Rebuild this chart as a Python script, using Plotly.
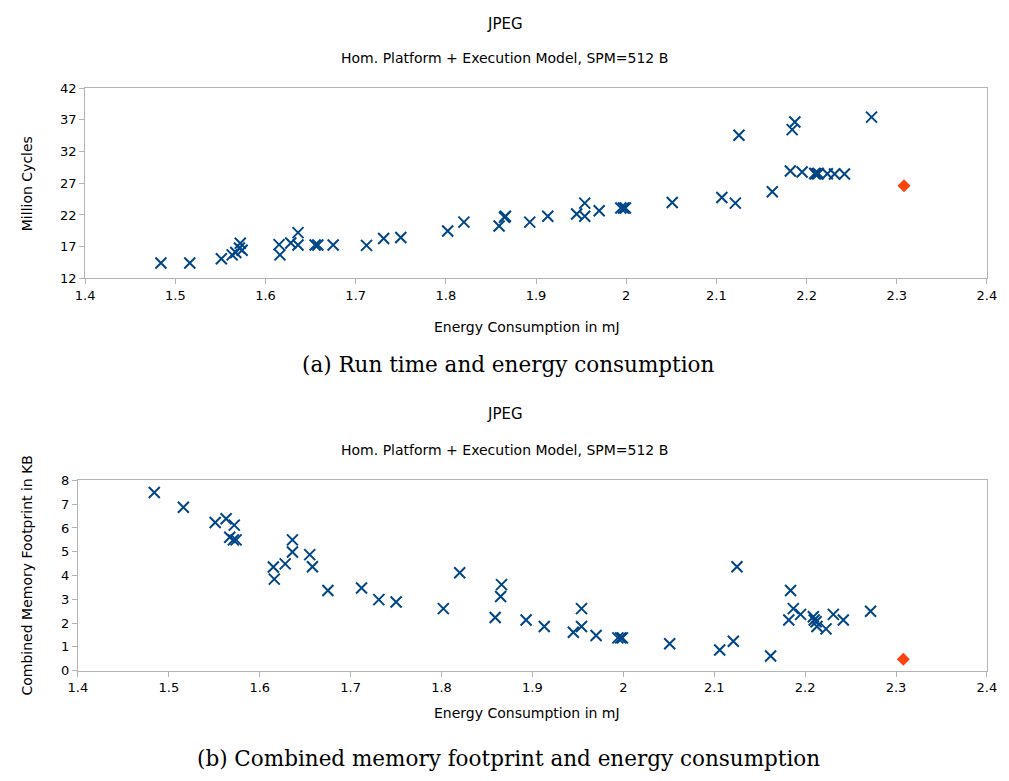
import plotly.graph_objects as go

# Design points: energy (mJ), run time (million cycles), combined memory footprint (KB)
energy_mj = [1.484, 1.516, 1.551, 1.563, 1.567, 1.571, 1.572, 1.574, 1.615, 1.616,
             1.628, 1.636, 1.636, 1.655, 1.658, 1.675, 1.712, 1.731, 1.750, 1.802,
             1.820, 1.859, 1.865, 1.866, 1.893, 1.913, 1.945, 1.954, 1.954, 1.970,
             1.994, 1.997, 1.999, 2.051, 2.106, 2.121, 2.125, 2.162, 2.182, 2.184,
             2.187, 2.195, 2.209, 2.210, 2.212, 2.213, 2.223, 2.231, 2.242, 2.272]
runtime_mcycles = [14.43, 14.43, 15.09, 15.71, 16.09, 16.78, 17.55, 16.44, 17.32, 15.71,
                   17.57, 19.22, 17.26, 17.26, 17.26, 17.26, 17.20, 18.29, 18.45, 19.48,
                   20.87, 20.25, 21.65, 21.80, 20.87, 21.80, 22.16, 23.86, 21.80, 22.67,
                   23.09, 23.09, 23.09, 23.97, 24.74, 23.86, 34.58, 25.67, 28.92, 35.46,
                   36.65, 28.76, 28.55, 28.50, 28.50, 28.55, 28.50, 28.45, 28.45, 37.42]
memory_kb = [7.49, 6.87, 6.23, 6.39, 5.61, 5.50, 6.12, 5.50, 4.36, 3.85,
             4.49, 5.50, 4.99, 4.88, 4.37, 3.37, 3.48, 2.99, 2.89, 2.61,
             4.12, 2.24, 3.12, 3.62, 2.13, 1.86, 1.62, 2.61, 1.86, 1.48,
             1.38, 1.38, 1.38, 1.13, 0.87, 1.24, 4.37, 0.62, 2.13, 3.37,
             2.61, 2.37, 2.27, 2.13, 2.06, 1.86, 1.76, 2.37, 2.13, 2.50]

# Reference configuration (highlighted)
ref_energy = [2.308]
ref_runtime = [26.6]
ref_memory = [0.48]

x_ticks = [1.4, 1.5, 1.6, 1.7, 1.8, 1.9, 2.0, 2.1, 2.2, 2.3, 2.4]
x_labels = ["1.4", "1.5", "1.6", "1.7", "1.8", "1.9", "2", "2.1", "2.2", "2.3", "2.4"]
runtime_ticks = [12, 17, 22, 27, 32, 37, 42]
memory_ticks = [0, 1, 2, 3, 4, 5, 6, 7, 8]

BLUE = "#004586"
ORANGE = "#ff420e"
FRAME = "#b3b3b3"
W, H = 1009, 781
SANS = "DejaVu Sans"
SERIF = "DejaVu Serif"


def px(x):
    return x / W


def py(y):
    return 1 - y / H


cross = dict(symbol="x-thin", size=11, color=BLUE, line=dict(width=2, color=BLUE))
diamond = dict(symbol="diamond", size=10, color=ORANGE, line=dict(width=0))

fig = go.Figure()
fig.add_trace(go.Scatter(x=energy_mj, y=runtime_mcycles, mode="markers", marker=cross,
                         xaxis="x", yaxis="y", showlegend=False))
fig.add_trace(go.Scatter(x=ref_energy, y=ref_runtime, mode="markers", marker=diamond,
                         xaxis="x", yaxis="y", showlegend=False))
fig.add_trace(go.Scatter(x=energy_mj, y=memory_kb, mode="markers", marker=cross,
                         xaxis="x2", yaxis="y2", showlegend=False))
fig.add_trace(go.Scatter(x=ref_energy, y=ref_memory, mode="markers", marker=diamond,
                         xaxis="x2", yaxis="y2", showlegend=False))

axis_common = dict(showline=True, linecolor=FRAME, linewidth=1, mirror=True,
                   showgrid=False, zeroline=False, ticks="outside", ticklen=5,
                   tickcolor=FRAME, tickfont=dict(family=SANS, size=13, color="#000"))

fig.update_layout(
    width=W, height=H,
    margin=dict(l=0, r=0, t=0, b=0),
    paper_bgcolor="white", plot_bgcolor="white",
    font=dict(family=SANS, color="#000"),
    xaxis=dict(domain=[px(76.7), px(996.7)], anchor="y", range=[1.4, 2.4],
               tickvals=x_ticks, ticktext=x_labels, **axis_common),
    yaxis=dict(domain=[py(276.7), py(82.7)], anchor="x", range=[12, 42],
               tickvals=runtime_ticks, **axis_common),
    xaxis2=dict(domain=[px(69.3), px(996.7)], anchor="y2", range=[1.4, 2.4],
                tickvals=x_ticks, ticktext=x_labels, **axis_common),
    yaxis2=dict(domain=[py(676.7), py(482.7)], anchor="x2", range=[0, 8],
                tickvals=memory_ticks, **axis_common),
)

texts = [
    ("JPEG", 505, 17, 15, SANS, 0),
    ("Hom. Platform + Execution Model, SPM=512 B", 505, 52, 14, SANS, 0),
    ("Energy Consumption in mJ", 527, 326, 14, SANS, 0),
    ("Million Cycles", 17, 180, 14, SANS, -90),
    ("(a) Run time and energy consumption", 509, 364, 21.5, SERIF, 0),
    ("JPEG", 505, 415, 15, SANS, 0),
    ("Hom. Platform + Execution Model, SPM=512 B", 505, 452, 14, SANS, 0),
    ("Energy Consumption in mJ", 527, 720, 14, SANS, 0),
    ("Combined Memory Footprint in KB", 17, 580, 14, SANS, -90),
    ("(b) Combined memory footprint and energy consumption", 509, 766, 21.5, SERIF, 0),
]
for t, x, y, s, fam, ang in texts:
    fig.add_annotation(text=t, x=px(x), y=py(y), xref="paper", yref="paper",
                       showarrow=False, xanchor="center", yanchor="middle",
                       textangle=ang, font=dict(family=fam, size=s, color="#000"))

fig.write_html("out.html")
